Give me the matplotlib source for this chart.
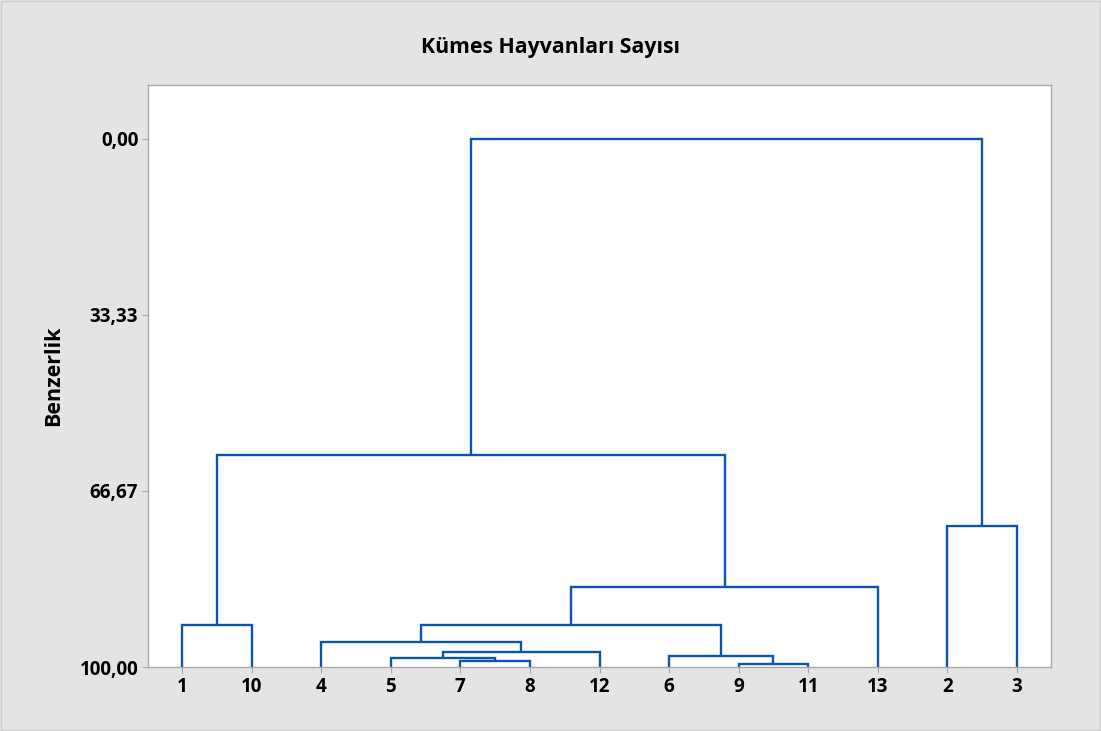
import matplotlib
matplotlib.use("Agg")
import matplotlib.pyplot as plt
from matplotlib.patches import Rectangle

# ---- data ----
leaf_labels = ["1", "10", "4", "5", "7", "8", "12", "6", "9", "11", "13", "2", "3"]
# merges (ids m0, m1, ... assigned in listing order): left cluster, right cluster, similarity
merge_left = ["7", "9", "5", "m2", "6", "4", "m5", "1", "m6", "m7", "2", "m9"]
merge_right = ["8", "11", "m0", "12", "m1", "m3", "m4", "10", "13", "m8", "3", "m10"]
merge_sim = [98.8, 99.4, 98.35, 97.1, 98.0, 95.2, 92.0, 92.0, 84.85, 59.85, 73.3, 0.0]
yticks = [0.0, 33.33, 66.67, 100.0]
ytick_labels = ["0,00", "33,33", "66,67", "100,00"]
title = "Kümes Hayvanları Sayısı"
ylabel = "Benzerlik"

plt.rcParams['font.family'] = ['Open Sans', 'DejaVu Sans']
color = "#0a56a8"

fig = plt.figure(figsize=(11.01, 7.31), dpi=100)
fig.patch.set_facecolor("#e4e4e4")
fig.patches.append(Rectangle((0.001, 0.001), 0.998, 0.997, transform=fig.transFigure,
                             fill=False, edgecolor="#cfcfcf", linewidth=1.0))
ax = fig.add_axes([148 / 1101, 1 - 667 / 731, (1051 - 148) / 1101, (667 - 85) / 731])
ax.set_facecolor("white")

pos = {lab: (float(i), 100.0) for i, lab in enumerate(leaf_labels)}
for k, (a, b, s) in enumerate(zip(merge_left, merge_right, merge_sim)):
    xa, ya = pos[a]
    xb, yb = pos[b]
    ax.plot([xa, xa, xb, xb], [ya, s, s, yb], color=color, linewidth=1.7,
            solid_joinstyle="miter", solid_capstyle="butt")
    pos["m%d" % k] = ((xa + xb) / 2, s)

ax.set_xlim(-0.49, 12.49)
ax.set_ylim(100, -10.2)
ax.set_xticks(range(len(leaf_labels)))
ax.set_xticklabels(leaf_labels, fontsize=13.5, fontweight="bold")
ax.set_yticks(yticks)
ax.set_yticklabels(ytick_labels, fontsize=13.5, fontweight="bold")
for sp in ax.spines.values():
    sp.set_color("#a8a8a8")
    sp.set_linewidth(1.0)
ax.tick_params(axis="both", length=4, color="#a8a8a8", pad=3, labelcolor="black")
ax.set_ylabel(ylabel, fontsize=15.5, fontweight="bold", labelpad=11)
fig.text(0.5, 1 - 48 / 731, title, ha="center", va="center", fontsize=15.3, fontweight="bold")

fig.savefig("out.png", dpi=100, facecolor=fig.get_facecolor())
